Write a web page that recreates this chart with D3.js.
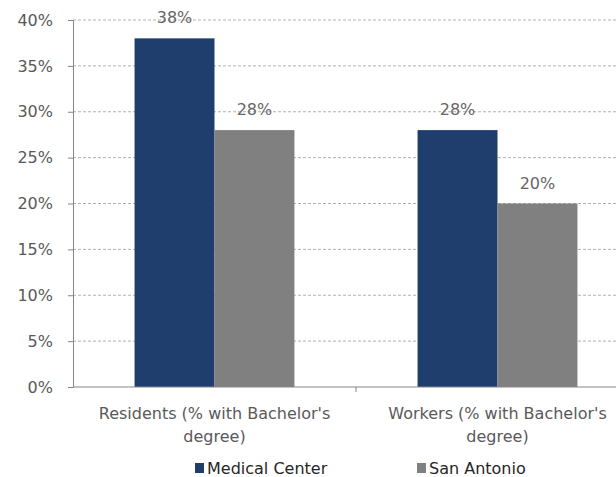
<!DOCTYPE html>
<html>
<head>
<meta charset="utf-8">
<script src="https://cdn.jsdelivr.net/npm/d3@7"></script>
<style>
  body { margin: 0; background: white; }
  text { font-family: "DejaVu Sans", sans-serif; fill: #595959; }
</style>
</head>
<body>
<script>
const categories = ["Residents (% with Bachelor's|degree)", "Workers (% with Bachelor's|degree)"];
const seriesNames = ["Medical Center", "San Antonio"];
const medicalCenter = [0.38, 0.28];
const sanAntonio = [0.28, 0.20];
const yTicks = [0, 0.05, 0.10, 0.15, 0.20, 0.25, 0.30, 0.35, 0.40];
const colors = ["#1f3e6e", "#808080"];

const svg = d3.select("body").append("svg")
    .attr("width", 616)
    .attr("height", 477)

const plotLeft = 73, plotTop = 20, plotBottom = 387, plotRight = 639

const y = d3.scaleLinear().domain([0, 0.4]).range([plotBottom, plotTop])
const x0 = d3.scaleBand().domain(categories).range([plotLeft, plotRight])
    .paddingInner(0.435).paddingOuter(0.2175)
const x1 = d3.scaleBand().domain(seriesNames).range([0, x0.bandwidth()])

// gridlines
svg.selectAll(".grid")
    .data(yTicks.slice(1))
    .join("line")
    .attr("x1", plotLeft).attr("x2", 616)
    .attr("y1", d => y(d)).attr("y2", d => y(d))
    .style("stroke", "#b0b0b0")
    .style("stroke-dasharray", "3,2")
    .style("stroke-width", 1)

const rows = categories.map((c, i) => ({ cat: c, vals: [medicalCenter[i], sanAntonio[i]] }))

const groups = svg.selectAll(".grp")
    .data(rows)
    .join("g")
    .attr("transform", d => `translate(${x0(d.cat)},0)`)

groups.selectAll("rect")
    .data(d => d.vals.map((v, j) => ({ v, s: seriesNames[j], j })))
    .join("rect")
    .attr("x", d => x1(d.s))
    .attr("y", d => y(d.v))
    .attr("width", x1.bandwidth())
    .attr("height", d => plotBottom - y(d.v))
    .style("fill", d => colors[d.j])

groups.selectAll(".lbl")
    .data(d => d.vals.map((v, j) => ({ v, s: seriesNames[j] })))
    .join("text")
    .attr("class", "lbl")
    .attr("x", d => x1(d.s) + x1.bandwidth() / 2)
    .attr("y", d => y(d.v) - 15)
    .attr("text-anchor", "middle")
    .style("font-size", "16px")
    .style("fill", "#666")
    .text(d => d3.format(".0%")(d.v))

// y axis
const yAxis = svg.append("g")
    .attr("transform", `translate(${plotLeft},0)`)
    .call(d3.axisLeft(y).tickValues(yTicks).tickFormat(d3.format(".0%")).tickSize(5).tickPadding(15))
yAxis.select(".domain").style("stroke", "#868686")
yAxis.selectAll(".tick line").style("stroke", "#868686")
yAxis.selectAll("text").style("font-size", "16px").style("font-family", "DejaVu Sans").attr("fill", "#595959")

// x axis
svg.append("line")
    .attr("x1", plotLeft).attr("x2", 616)
    .attr("y1", plotBottom).attr("y2", plotBottom)
    .style("stroke", "#868686")
svg.append("line")
    .attr("x1", plotLeft + x0.step()).attr("x2", plotLeft + x0.step())
    .attr("y1", plotBottom).attr("y2", plotBottom + 5)
    .style("stroke", "#868686")

svg.selectAll(".xlab")
    .data(categories)
    .join("text")
    .attr("class", "xlab")
    .attr("x", d => x0(d) + x0.bandwidth() / 2)
    .attr("y", 419)
    .attr("text-anchor", "middle")
    .style("font-size", "16px")
    .each(function(d) {
        const parts = d.split("|")
        d3.select(this).selectAll("tspan")
            .data(parts)
            .join("tspan")
            .attr("x", d3.select(this).attr("x"))
            .attr("dy", (p, i) => i === 0 ? 0 : 23)
            .text(p => p)
    })

// legend
const legendX = [195, 417]
const legend = svg.selectAll(".leg")
    .data(seriesNames)
    .join("g")
    .attr("transform", (d, i) => `translate(${legendX[i]},474)`)
legend.append("rect")
    .attr("x", 0).attr("y", -11)
    .attr("width", 9).attr("height", 10)
    .style("fill", (d, i) => colors[i])
legend.append("text")
    .attr("x", 12).attr("y", 0)
    .style("font-size", "16px")
    .style("fill", "#262626")
    .text(d => d)
</script>
</body>
</html>
